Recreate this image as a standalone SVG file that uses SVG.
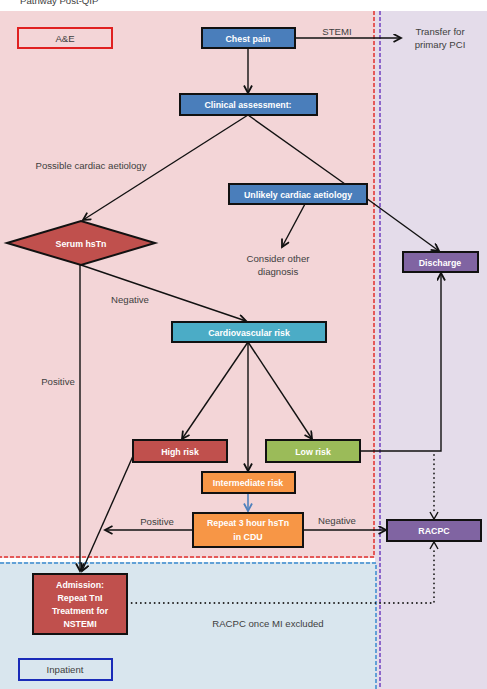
<svg xmlns="http://www.w3.org/2000/svg" width="487" height="689" viewBox="0 0 487 689">
<defs>
<style>
.lbl{font-family:"Liberation Sans",Arial,sans-serif;font-size:9.6px;fill:#404040;text-anchor:middle}
.bt{font-family:"Liberation Sans",Arial,sans-serif;font-size:8.8px;font-weight:bold;fill:#ffffff;text-anchor:middle}
.box{stroke:#111;stroke-width:2}
.blue{fill:#4a7ebb}.red{fill:#c0504d}.purple{fill:#8064a2}.teal{fill:#4bacc6}.green{fill:#9bbb59}.orange{fill:#f79646}
.con{stroke:#111;stroke-width:1.4;fill:none}
.dot{stroke:#222;stroke-width:1.8;fill:none;stroke-dasharray:0.1 4.5;stroke-linecap:round}
</style>
<marker id="ah" markerWidth="11" markerHeight="11" refX="8.5" refY="4.5" orient="auto" markerUnits="userSpaceOnUse">
<path d="M1,0.5 L8.5,4.5 L1,8.5" fill="none" stroke="#111" stroke-width="1.8"/>
</marker>
<marker id="ahb" markerWidth="11" markerHeight="11" refX="8.5" refY="4.5" orient="auto" markerUnits="userSpaceOnUse">
<path d="M1,0.5 L8.5,4.5 L1,8.5" fill="none" stroke="#4f81bd" stroke-width="1.8"/>
</marker>
</defs>
<rect x="0" y="0" width="487" height="689" fill="#ffffff"/>
<text x="20" y="4" font-family="Liberation Sans,Arial,sans-serif" font-size="9.6" fill="#404040">Pathway Post-QIP</text>
<g id="regions">
<rect x="0" y="11" width="375" height="547" fill="#f3d5d7"/>
<rect x="375" y="11" width="112" height="678" fill="#e4dcea"/>
<rect x="0" y="562" width="376" height="127" fill="#d9e6ee"/>
<path d="M374,11 V557 H0" fill="none" stroke="#e0312f" stroke-width="1.5" stroke-dasharray="4 2"/>
<path d="M0,563 H376 V689" fill="none" stroke="#3a8ad0" stroke-width="1.5" stroke-dasharray="4 2"/>
<path d="M380,11 V689" fill="none" stroke="#7040c0" stroke-width="1.5" stroke-dasharray="4 2"/>
</g>
<g id="connectors">
<path class="con" d="M295,38 H401" marker-end="url(#ah)"/>
<path class="con" d="M248,48 V93" marker-end="url(#ah)"/>
<path class="con" d="M248,115 L83,220" marker-end="url(#ah)"/>
<path class="con" d="M248,115 L345,184"/>
<path class="con" d="M305,204 L282,247" marker-end="url(#ah)"/>
<path class="con" d="M366,198 L439,251" marker-end="url(#ah)"/>
<path class="con" d="M81,265 L246,321" marker-end="url(#ah)"/>
<path class="con" d="M80,265 V571" marker-end="url(#ah)"/>
<path class="con" d="M248,342 L182,439" marker-end="url(#ah)"/>
<path class="con" d="M248,342 V471" marker-end="url(#ah)"/>
<path class="con" d="M248,342 L312,439" marker-end="url(#ah)"/>
<path class="con" d="M360,451 H441 V273" marker-end="url(#ah)"/>
<path class="con" d="M133,456 L82,571" marker-end="url(#ah)"/>
<path d="M248,493 V511" stroke="#4f81bd" stroke-width="1.6" fill="none" marker-end="url(#ahb)"/>
<path class="con" d="M193,530 H105" marker-end="url(#ah)"/>
<path class="con" d="M303,530 H386" marker-end="url(#ah)"/>
<path class="dot" d="M434,455 V512"/>
<path class="con" d="M430,512 L434,519 L438,512"/>
<path class="dot" d="M127,603 H434 V550"/>
<path class="con" d="M430,549 L434,542 L438,549"/>
</g>
<g id="ae"><rect x="18" y="28" width="94" height="20" fill="#f3d5d7" stroke="#e02020" stroke-width="2"/><text class="lbl" x="65" y="41.5">A&amp;E</text></g>
<g id="chest-pain"><rect class="box blue" x="202" y="28" width="93" height="20"/><text class="bt" x="248" y="41.5">Chest pain</text></g>
<g id="stemi-label"><text class="lbl" x="337" y="35">STEMI</text></g>
<g id="transfer"><text class="lbl" x="440" y="35">Transfer for</text><text class="lbl" x="440" y="47.5">primary PCI</text></g>
<g id="clinical"><rect class="box blue" x="180" y="94" width="137" height="21"/><text class="bt" x="248" y="108">Clinical assessment:</text></g>
<g id="possible-label"><text class="lbl" x="91" y="169">Possible cardiac aetiology</text></g>
<g id="unlikely"><rect class="box blue" x="229" y="184" width="138" height="20"/><text class="bt" x="298" y="197.5">Unlikely cardiac aetiology</text></g>
<g id="serum"><polygon class="box red" points="7,243 81,221 155,243 81,265"/><text class="bt" x="81" y="246.5">Serum hsTn</text></g>
<g id="consider"><text class="lbl" x="278" y="262">Consider other</text><text class="lbl" x="278" y="275">diagnosis</text></g>
<g id="discharge"><rect class="box purple" x="403" y="252" width="75" height="20"/><text class="bt" x="440" y="265.5">Discharge</text></g>
<g id="negative-label"><text class="lbl" x="130" y="303">Negative</text></g>
<g id="positive-label"><text class="lbl" x="58" y="385">Positive</text></g>
<g id="cv-risk"><rect class="box teal" x="172" y="322" width="154" height="20"/><text class="bt" x="249" y="335.5">Cardiovascular risk</text></g>
<g id="high-risk"><rect class="box red" x="133" y="440" width="94" height="22"/><text class="bt" x="180" y="454.5">High risk</text></g>
<g id="low-risk"><rect class="box green" x="266" y="440" width="94" height="22"/><text class="bt" x="313" y="454.5">Low risk</text></g>
<g id="intermediate"><rect class="box orange" x="202" y="472" width="93" height="21"/><text class="bt" x="248" y="486">Intermediate risk</text></g>
<g id="repeat"><rect class="box orange" x="193" y="513" width="110" height="34"/><text class="bt" x="248" y="526">Repeat 3 hour hsTn</text><text class="bt" x="248" y="540">in CDU</text></g>
<g id="pos2-label"><text class="lbl" x="157" y="525">Positive</text></g>
<g id="neg2-label"><text class="lbl" x="337" y="524">Negative</text></g>
<g id="racpc"><rect class="box purple" x="387" y="520" width="94" height="21"/><text class="bt" x="434" y="533.5">RACPC</text></g>
<g id="admission"><rect class="box red" x="33" y="574" width="94" height="60"/><text class="bt" x="80" y="588">Admission:</text><text class="bt" x="80" y="601">Repeat TnI</text><text class="bt" x="80" y="614">Treatment for</text><text class="bt" x="80" y="627">NSTEMI</text></g>
<g id="racpc-label"><text class="lbl" x="268" y="627">RACPC once MI  excluded</text></g>
<g id="inpatient"><rect x="19" y="659" width="93" height="21" fill="#d9e6ee" stroke="#1a2bb8" stroke-width="2"/><text class="lbl" x="65" y="673">Inpatient</text></g>
</svg>
